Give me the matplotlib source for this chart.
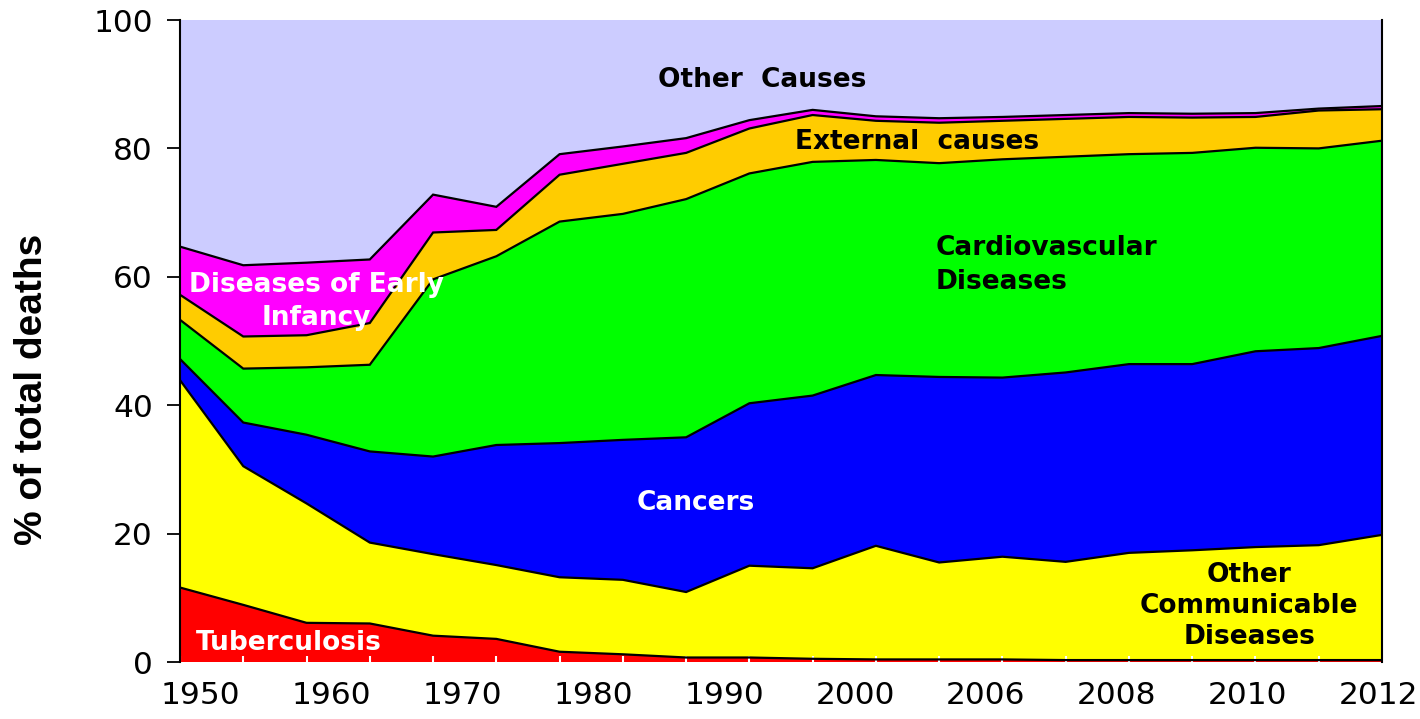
import numpy as np
import matplotlib
matplotlib.use("Agg")
import matplotlib.pyplot as plt

# categories (one data point per category, labels every other one)
n_points = 20
year_labels = ["1950", "1960", "1970", "1980", "1990", "2000", "2006", "2008", "2010", "2012"]

# % of total deaths, by cause
tuberculosis = [11.6, 8.9, 6.1, 6.0, 4.1, 3.6, 1.6, 1.2, 0.7, 0.7,
                0.5, 0.4, 0.4, 0.4, 0.3, 0.3, 0.3, 0.3, 0.3, 0.3]
other_communicable = [32.3, 21.6, 18.6, 12.6, 12.7, 11.5, 11.6, 11.6, 10.2, 14.3,
                      14.1, 17.7, 15.1, 16.0, 15.3, 16.7, 17.1, 17.6, 17.9, 19.5]
cancers = [3.3, 6.8, 10.7, 14.2, 15.2, 18.7, 20.9, 21.8, 24.1, 25.3,
           26.9, 26.6, 28.9, 27.9, 29.5, 29.4, 29.0, 30.5, 30.7, 31.0]
cardiovascular = [6.1, 8.4, 10.5, 13.5, 27.6, 29.4, 34.5, 35.2, 37.1, 35.8,
                  36.4, 33.5, 33.3, 34.0, 33.6, 32.7, 32.9, 31.7, 31.1, 30.4]
external = [3.9, 5.0, 5.0, 6.5, 7.3, 4.1, 7.3, 7.8, 7.2, 7.0,
            7.3, 6.1, 6.3, 6.0, 5.9, 5.8, 5.5, 4.8, 5.9, 4.9]
early_infancy = [7.5, 11.1, 11.3, 9.9, 5.9, 3.6, 3.2, 2.7, 2.3, 1.3,
                 0.8, 0.7, 0.7, 0.6, 0.6, 0.6, 0.6, 0.6, 0.3, 0.5]

series = [tuberculosis, other_communicable, cancers, cardiovascular, external, early_infancy]
colors = ["#FF0000", "#FFFF00", "#0000FF", "#00FF00", "#FFCC00", "#FF00FF", "#CCCCFF"]

x = np.arange(n_points)
stack = np.array(series, dtype=float)
other_causes = 100 - stack.sum(axis=0)
layers = np.vstack([stack, other_causes])

fig = plt.figure(figsize=(14.2, 7.19), dpi=100)
ax = fig.add_axes([180 / 1420, 1 - 662 / 719, 1202 / 1420, 642 / 719])

ax.stackplot(x, layers, colors=colors, linewidth=0)
tops = np.cumsum(stack, axis=0)
for top in tops:
    ax.plot(x, top, color="black", lw=1.6, solid_joinstyle="miter")

ax.set_xlim(0, n_points - 1)
ax.set_ylim(0, 100)

ax.spines["top"].set_visible(False)
ax.spines["bottom"].set_visible(False)
ax.spines["left"].set_linewidth(1.5)
ax.spines["right"].set_linewidth(1.5)

ax.set_yticks(np.arange(0, 101, 20))
ax.tick_params(axis="y", length=9.5, width=1.3, pad=10, labelsize=22.5)

# labels spread evenly under the plot, white tick marks at every category
label_pos = np.linspace(0.32, 18.95, len(year_labels))
ax.set_xticks(label_pos)
ax.set_xticklabels(year_labels, fontsize=22.5)
ax.tick_params(axis="x", length=0, pad=14)
ax.set_xticks(x, minor=True)
ax.tick_params(axis="x", which="minor", direction="in", length=4, width=1.5, color="white")

fig.text(32 / 1420, 1 - 389 / 719, "% of total deaths", rotation=90,
         ha="center", va="center", fontsize=28, fontweight="bold",
         family="Liberation Sans")

lab = dict(fontsize=19, fontweight="bold")
ax.text(9.2, 90.7, "Other  Causes", ha="center", va="center", color="black", **lab)
ax.text(11.65, 81.0, "External  causes", ha="center", va="center", color="black", **lab)
ax.text(11.95, 61.8, "Cardiovascular\nDiseases", ha="left", va="center",
        color="black", linespacing=1.4, **lab)
ax.text(2.15, 56.2, "Diseases of Early\nInfancy", ha="center", va="center",
        color="white", linespacing=1.35, **lab)
ax.text(8.15, 24.8, "Cancers", ha="center", va="center", color="white", **lab)
ax.text(0.25, 2.9, "Tuberculosis", ha="left", va="center", color="white", **lab)
ax.text(16.9, 8.7, "Other\nCommunicable\nDiseases", ha="center", va="center",
        color="black", linespacing=1.25, **lab)

fig.savefig("out.png", dpi=100)
